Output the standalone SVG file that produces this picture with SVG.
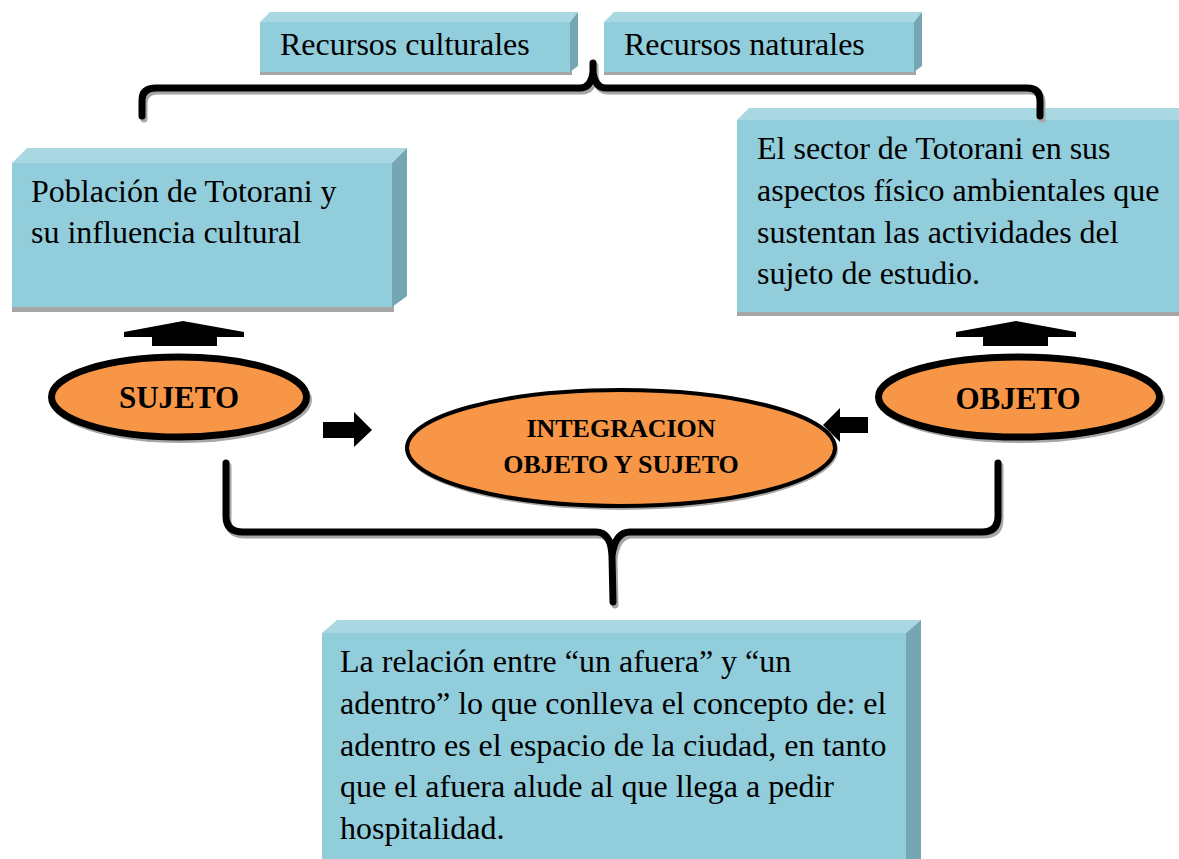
<svg xmlns="http://www.w3.org/2000/svg" width="1179" height="859" viewBox="0 0 1179 859">
<defs>
<style>
.front{fill:#92CDDC}
.top{fill:#A9D7E2}
.side{fill:#74A7B3}
.shadow{fill:#A6A6A6}
.t{font-family:"Liberation Serif","Times New Roman",serif;font-size:32px;fill:#000}
.tb{font-family:"Liberation Serif","Times New Roman",serif;font-weight:bold;fill:#000;text-anchor:middle}
.oval{fill:#F79646;stroke:#000}
.br{fill:none;stroke:#000;stroke-width:7;stroke-linecap:round;stroke-linejoin:round}
.brs{fill:none;stroke:#A6A6A6;stroke-width:7;stroke-linecap:round}
.arrow{fill:#000}
</style>
</defs>
<rect width="1179" height="859" fill="#fff"/>

<g id="recursos-culturales">
<rect class="shadow" x="260" y="71" width="312" height="4"/>
<rect class="front" x="260" y="22" width="310" height="50"/>
<polygon class="top" points="260,22 270,12 578,12 570,22"/>
<polygon class="side" points="570,22 578,12 578,66 570,72"/>
<text class="t" x="280" y="55" font-size="30">Recursos culturales</text>
</g>

<g id="recursos-naturales">
<rect class="shadow" x="604" y="71" width="312" height="4"/>
<rect class="front" x="604" y="22" width="310" height="50"/>
<polygon class="top" points="604,22 614,12 922,12 914,22"/>
<polygon class="side" points="914,22 922,12 922,66 914,72"/>
<text class="t" x="624" y="55" font-size="30">Recursos naturales</text>
</g>

<g id="poblacion">
<rect class="shadow" x="12" y="306" width="382" height="6"/>
<rect class="front" x="12" y="163" width="380" height="144"/>
<polygon class="top" points="12,163 27,148 407,148 392,163"/>
<polygon class="side" points="392,163 407,148 407,296 392,307"/>
<text class="t" x="31" y="202">Población de Totorani y</text>
<text class="t" x="31" y="243">su influencia cultural</text>
</g>

<g id="sector">
<rect class="shadow" x="737" y="311" width="460" height="5"/>
<rect class="front" x="737" y="120" width="460" height="192"/>
<polygon class="top" points="737,120 749,108 1197,108 1197,120"/>
<text class="t" x="757" y="159">El sector de Totorani en sus</text>
<text class="t" x="757" y="201">aspectos físico ambientales que</text>
<text class="t" x="757" y="243">sustentan las actividades del</text>
<text class="t" x="757" y="284">sujeto de estudio.</text>
</g>

<g id="relacion">
<rect class="front" x="322" y="633" width="584" height="230"/>
<polygon class="top" points="322,633 337,620 921,620 906,633"/>
<polygon class="side" points="906,633 921,620 921,863 906,863"/>
<text class="t" x="340" y="672">La relación entre “un afuera” y “un</text>
<text class="t" x="340" y="714">adentro” lo que conlleva el concepto de: el</text>
<text class="t" x="340" y="756">adentro es el espacio de la ciudad, en tanto</text>
<text class="t" x="340" y="797">que el afuera alude al que llega a pedir</text>
<text class="t" x="340" y="839">hospitalidad.</text>
</g>

<g id="sujeto">
<ellipse class="shadow" cx="181" cy="400" rx="131" ry="43"/>
<ellipse class="oval" cx="179" cy="397" rx="127.5" ry="40" stroke-width="7"/>
<text class="tb" x="179" y="408" font-size="31">SUJETO</text>
</g>

<g id="objeto">
<ellipse class="shadow" cx="1021" cy="400" rx="144" ry="43"/>
<ellipse class="oval" cx="1019" cy="397" rx="140.5" ry="40" stroke-width="7"/>
<text class="tb" x="1018" y="409" font-size="31">OBJETO</text>
</g>

<g id="integracion">
<ellipse class="shadow" cx="622" cy="450" rx="216" ry="60"/>
<ellipse class="oval" cx="621" cy="448" rx="214" ry="58" stroke-width="4"/>
<text class="tb" x="621" y="437" font-size="26">INTEGRACION</text>
<text class="tb" x="621" y="473" font-size="26">OBJETO Y SUJETO</text>
</g>

<g id="connectors">
<path class="brs" transform="translate(2,3)" d="M142,116 V100 Q142,88 156,88 H580 Q591,88 593,72 L593,63 M593,72 Q595,88 606,88 H1027 Q1040,88 1040,100 V116"/>
<path class="br" d="M142,116 V100 Q142,88 156,88 H580 Q591,88 593,72 L593,63 M593,72 Q595,88 606,88 H1027 Q1040,88 1040,100 V116"/>
<path class="brs" transform="translate(2,3)" d="M226,463 V516 Q226,532 243,532 H596 Q611,532 612,556 L613,602 M612,556 Q615,532 630,532 H982 Q998,532 998,516 V463"/>
<path class="br" d="M226,463 V516 Q226,532 243,532 H596 Q611,532 612,556 L613,602 M612,556 Q615,532 630,532 H982 Q998,532 998,516 V463"/>
<polygon class="arrow" points="124,332 183,321 244,332 244,337 217,337 217,346 152,346 152,337 124,337"/>
<polygon class="arrow" points="956,332 1016,321 1076,332 1076,337 1048,337 1048,346 983,346 983,337 956,337"/>
<polygon class="arrow" points="323,422 354,422 354,412 372,430 354,447 354,438 323,438"/>
<polygon class="arrow" points="868,417 840,417 840,408 823,425 840,442 840,433 868,433"/>
</g>
</svg>
